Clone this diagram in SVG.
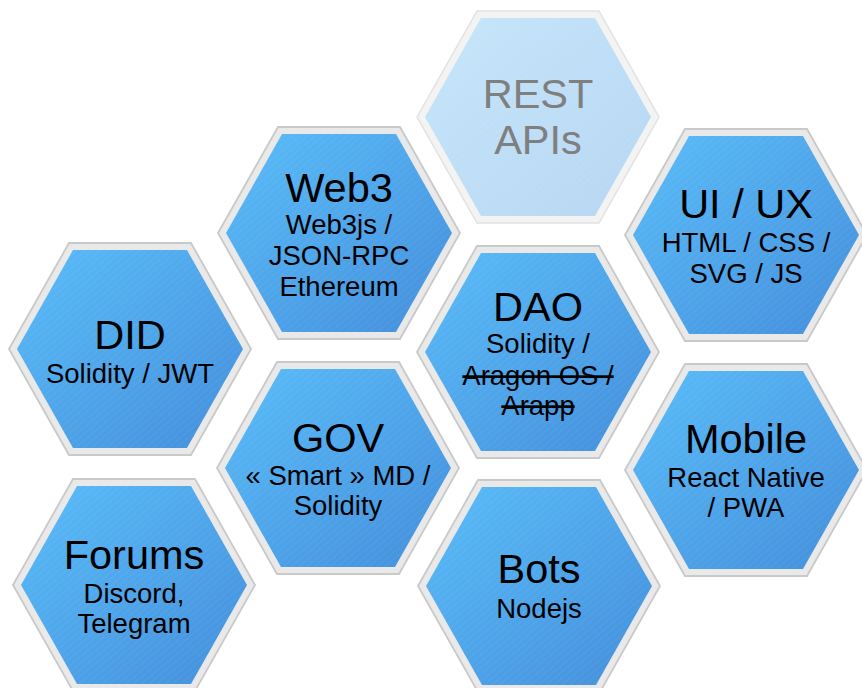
<svg xmlns="http://www.w3.org/2000/svg" xmlns:xlink="http://www.w3.org/1999/xlink" width="862" height="688" viewBox="0 0 862 688">
  <defs>
    <linearGradient id="blue" x1="0" y1="0" x2="1" y2="1">
      <stop offset="0" stop-color="#5abdf9"/>
      <stop offset="1" stop-color="#448edb"/>
    </linearGradient>
    <linearGradient id="pale" x1="0" y1="0" x2="1" y2="1">
      <stop offset="0" stop-color="#c6e6fb"/>
      <stop offset="1" stop-color="#b7d6f2"/>
    </linearGradient>
    <pattern id="hatch" width="5" height="5" patternUnits="userSpaceOnUse" patternTransform="rotate(-40)">
      <line x1="0" y1="0" x2="5" y2="0" stroke="#ffffff" stroke-opacity="0.10" stroke-width="1"/>
    </pattern>
    <polygon id="outer" points="-121,0 -61,-106 61,-106 121,0 61,106 -61,106"/>
    <polygon id="inner" points="-113,0 -57,-99 57,-99 113,0 57,99 -57,99"/>
  </defs>
  <style>
    .border { fill: #e9e9e9; stroke: #c9c9c9; stroke-width: 1.8; }
    .border-pale { fill: #f3f3f3; stroke: #e2e2e2; stroke-width: 1.5; }
    .face { fill: url(#blue); }
    .face-pale { fill: url(#pale); }
    .tex { fill: url(#hatch); }
    .title { font-family: "Liberation Sans", Arial, sans-serif; font-size: 41.5px; fill: #000000; text-anchor: middle; }
    .sub { font-family: "Liberation Sans", Arial, sans-serif; font-size: 27.5px; fill: #000000; text-anchor: middle; }
    .pale-text { fill: #7f7f7f; }
    .strike { text-decoration: line-through; }
  </style>
  <rect width="862" height="688" fill="#ffffff"/>

  <g id="node-rest" transform="translate(538,117)">
    <use xlink:href="#outer" class="border-pale"/>
    <use xlink:href="#inner" class="face-pale"/>
    <use xlink:href="#inner" class="tex"/>
    <text class="title pale-text" x="0" y="-9">REST</text>
    <text class="title pale-text" x="0" y="37">APIs</text>
  </g>

  <g id="node-web3" transform="translate(339,233)">
    <use xlink:href="#outer" class="border"/>
    <use xlink:href="#inner" class="face"/>
    <use xlink:href="#inner" class="tex"/>
    <text class="title" x="0" y="-31">Web3</text>
    <text class="sub" x="0" y="1">Web3js /</text>
    <text class="sub" x="0" y="32">JSON-RPC</text>
    <text class="sub" x="0" y="63">Ethereum</text>
  </g>

  <g id="node-uiux" transform="translate(746,235)">
    <use xlink:href="#outer" class="border"/>
    <use xlink:href="#inner" class="face"/>
    <use xlink:href="#inner" class="tex"/>
    <text class="title" x="0" y="-17">UI / UX</text>
    <text class="sub" x="0" y="17">HTML / CSS /</text>
    <text class="sub" x="0" y="48">SVG / JS</text>
  </g>

  <g id="node-did" transform="translate(130,349)">
    <use xlink:href="#outer" class="border"/>
    <use xlink:href="#inner" class="face"/>
    <use xlink:href="#inner" class="tex"/>
    <text class="title" x="0" y="0">DID</text>
    <text class="sub" x="0" y="34">Solidity / JWT</text>
  </g>

  <g id="node-dao" transform="translate(538,352)">
    <use xlink:href="#outer" class="border"/>
    <use xlink:href="#inner" class="face"/>
    <use xlink:href="#inner" class="tex"/>
    <text class="title" x="0" y="-31">DAO</text>
    <text class="sub" x="0" y="1">Solidity /</text>
    <text class="sub strike" x="0" y="33">Aragon OS /</text>
    <text class="sub strike" x="0" y="63">Arapp</text>
  </g>

  <g id="node-gov" transform="translate(338,468)">
    <use xlink:href="#outer" class="border"/>
    <use xlink:href="#inner" class="face"/>
    <use xlink:href="#inner" class="tex"/>
    <text class="title" x="0" y="-16">GOV</text>
    <text class="sub" x="0" y="17">« Smart » MD /</text>
    <text class="sub" x="0" y="47">Solidity</text>
  </g>

  <g id="node-mobile" transform="translate(746,470)">
    <use xlink:href="#outer" class="border"/>
    <use xlink:href="#inner" class="face"/>
    <use xlink:href="#inner" class="tex"/>
    <text class="title" x="0" y="-17">Mobile</text>
    <text class="sub" x="0" y="17">React Native</text>
    <text class="sub" x="0" y="47">/ PWA</text>
  </g>

  <g id="node-forums" transform="translate(134,585)">
    <use xlink:href="#outer" class="border"/>
    <use xlink:href="#inner" class="face"/>
    <use xlink:href="#inner" class="tex"/>
    <text class="title" x="0" y="-16">Forums</text>
    <text class="sub" x="0" y="18">Discord,</text>
    <text class="sub" x="0" y="48">Telegram</text>
  </g>

  <g id="node-bots" transform="translate(539,586)">
    <use xlink:href="#outer" class="border"/>
    <use xlink:href="#inner" class="face"/>
    <use xlink:href="#inner" class="tex"/>
    <text class="title" x="0" y="-3">Bots</text>
    <text class="sub" x="0" y="32">Nodejs</text>
  </g>

  <g id="connectors"/>
</svg>
